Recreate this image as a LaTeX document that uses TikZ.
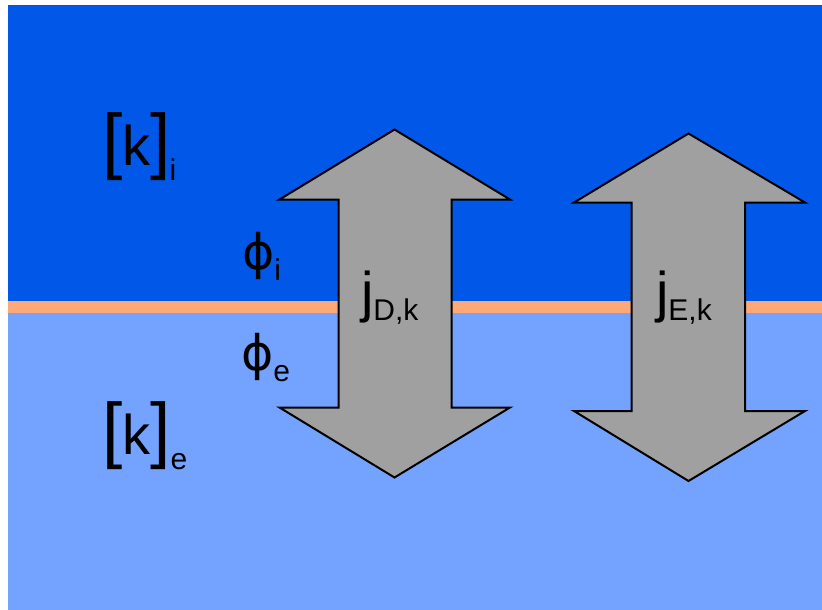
\documentclass[tikz,border=0pt]{standalone}
\usepackage{fontspec}
\setmainfont{Liberation Sans}
\newfontfamily\phifont{DejaVu Sans}
\definecolor{darkblue}{RGB}{0,87,232}
\definecolor{lightblue}{RGB}{116,162,255}
\definecolor{membrane}{RGB}{255,168,120}
\definecolor{arrowgray}{RGB}{160,160,160}
\newcommand{\bigsz}{\fontsize{56}{56}\selectfont}
\newcommand{\brsz}{\fontsize{73}{73}\selectfont}
\newcommand{\subsz}{\fontsize{30}{30}\selectfont}
\newcommand{\phisz}{\fontsize{49}{49}\selectfont\phifont}
\begin{document}
\begin{tikzpicture}[x=1pt,y=-1pt,
  lbl/.style={anchor=base west,inner sep=0pt,outer sep=0pt,text=black},
  dblarrow/.style={fill=arrowgray,draw=black,line width=2pt,line join=miter}]
\useasboundingbox (0,0) rectangle (822,610);
\fill[white] (0,0) rectangle (822,610);
\fill[darkblue] (8,5) rectangle (822,301);
\fill[lightblue] (8,313) rectangle (822,610);
\fill[membrane] (8,301) rectangle (822,313);
% arrow D
\draw[dblarrow] (394.5,129.5) -- (510,199.5) -- (451.5,199.5) -- (451.5,407.5) -- (510,407.5)
  -- (394.5,477.5) -- (279.5,407.5) -- (338.5,407.5) -- (338.5,199.5) -- (279.5,199.5) -- cycle;
% arrow E
\draw[dblarrow] (688.5,133.5) -- (805,202.5) -- (745,202.5) -- (745,411) -- (805,411)
  -- (688.5,481) -- (574,411) -- (631.5,411) -- (631.5,202.5) -- (574,202.5) -- cycle;
\node[lbl] (jd) at (361,311) {\bigsz j\raisebox{-9pt}{\subsz D,k}};
\node[lbl] (je) at (656,311) {\bigsz j\raisebox{-9pt}{\subsz E,k}};
\node[lbl] (ki) at (102,165) {{\brsz[}{\bigsz k}{\brsz]}\kern-1pt\raisebox{-15pt}{\subsz i}};
\node[lbl] (ke) at (102,454) {{\brsz[}{\bigsz k}{\brsz]}\kern0pt\raisebox{-15pt}{\subsz e}};
\node[lbl] (phii) at (242,269) {{\phisz ϕ}\raisebox{-11pt}{\subsz i}};
\node[lbl] (phie) at (241,370) {{\phisz ϕ}\raisebox{-11pt}{\subsz e}};
\end{tikzpicture}
\end{document}
